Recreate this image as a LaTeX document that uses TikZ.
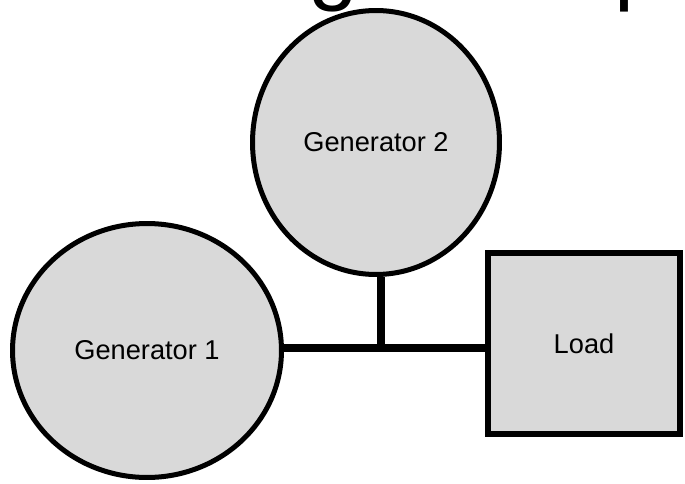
\documentclass[tikz,border=0pt]{standalone}
\usepackage{fontspec}
\setmainfont{Liberation Sans}
\usetikzlibrary{shapes.geometric}

\definecolor{unitgray}{HTML}{D9D9D9}

\tikzset{
  gen/.style={ellipse, draw, fill=unitgray, line width=2.85pt, inner sep=0pt},
  loadbox/.style={rectangle, draw, fill=unitgray, line width=3.2pt, inner sep=0pt,
    minimum width=3.84cm, minimum height=3.62cm},
  wire/.style={line width=4.5pt},
  lbl/.style={font=\fontsize{15.5}{18}\selectfont},
  headtxt/.style={anchor=base west, inner sep=0pt, font=\fontsize{51}{51}\selectfont}
}

\begin{document}
\begin{tikzpicture}[x=0.02cm, y=-0.02cm]
			\path[use as bounding box] (0,0) rectangle (685,483);
			\clip (0,0) rectangle (685,483);

			% heading above, only its descenders fall inside the page
			\node[headtxt] (hg) at (308,-6) {g};
			\node[headtxt] (hp) at (614,-6) {p};

			\node[gen, lbl, minimum width=4.94cm, minimum height=5.28cm] (gen2) at (376,142.5) {Generator 2};
			\node[gen, lbl, minimum width=5.38cm, minimum height=5.08cm] (gen1) at (147,350.5) {Generator 1};
			\node[loadbox, lbl] (load) at (584,343.5) {Load};

			\coordinate (bus) at (381,348);

			% soft shadow under the bus bar
			\draw[wire, black!15, yshift=-0.07cm] (gen1.east |- bus) -- (load.west |- bus);
			\draw[wire] (gen1.east |- bus) -- (bus) -- (load.west |- bus);
			\draw[wire] (bus |- gen2.south) -- (bus);
		\end{tikzpicture}
\end{document}
